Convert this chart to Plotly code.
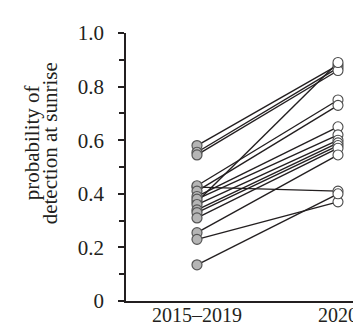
import plotly.graph_objects as go

categories = ["2015–2019", "2020"]
before = [0.58, 0.555, 0.545, 0.37, 0.425, 0.43, 0.41, 0.39, 0.38, 0.36, 0.34, 0.33, 0.31, 0.255, 0.23, 0.135]
after = [0.88, 0.87, 0.86, 0.89, 0.41, 0.75, 0.73, 0.65, 0.62, 0.60, 0.59, 0.58, 0.57, 0.545, 0.37, 0.40]
y_ticks = [0, 0.2, 0.4, 0.6, 0.8, 1.0]
y_ticktext = ["0", "0.2", "0.4", "0.6", "0.8", "1.0"]
y_minor = [0.1, 0.3, 0.5, 0.7, 0.9]
title_lines = ["probability of", "detection at sunrise"]

FONT = "Liberation Serif"
INK = "#231f20"
fig = go.Figure()
for b, a in zip(before, after):
    fig.add_trace(go.Scatter(x=[0, 1], y=[b, a], mode="lines",
                             line=dict(color=INK, width=1.4),
                             showlegend=False, hoverinfo="skip"))
fig.add_trace(go.Scatter(x=[0] * len(before), y=before, mode="markers",
                         marker=dict(size=10, color="#b5b5b5",
                                     line=dict(color="#555555", width=1.2)),
                         showlegend=False))
fig.add_trace(go.Scatter(x=[1] * len(after), y=after, mode="markers",
                         marker=dict(size=10, color="white",
                                     line=dict(color="#4a4a4a", width=1.1)),
                         showlegend=False))

fig.update_layout(
    width=361, height=325,
    margin=dict(l=118, r=0, t=25, b=32, pad=0),
    paper_bgcolor="white", plot_bgcolor="white",
    font=dict(family=FONT, size=20, color=INK),
    xaxis=dict(range=[-0.5035, 1.2199], tickvals=[0, 1], ticktext=categories,
               showline=True, linecolor=INK, linewidth=2,
               ticks="", ticklen=0, showgrid=False, zeroline=False,
               ticklabelstandoff=-5,
               tickfont=dict(family=FONT, size=20, color=INK)),
    yaxis=dict(range=[0, 1.0], tickvals=y_ticks, ticktext=y_ticktext,
               showline=True, linecolor=INK, linewidth=1.6,
               ticks="outside", ticklen=6, tickwidth=1.5, tickcolor=INK,
               minor=dict(tickvals=y_minor, ticks="outside",
                          ticklen=5, tickwidth=1.5, tickcolor=INK),
               showgrid=False, zeroline=False, ticklabelstandoff=10,
               tickfont=dict(family=FONT, size=21, color=INK)),
    annotations=[
        dict(text=title_lines[0], xref="paper", yref="paper", x=-0.389, y=0.59,
             xanchor="center", yanchor="middle", textangle=-90, showarrow=False,
             font=dict(family=FONT, size=21, color=INK)),
        dict(text=title_lines[1], xref="paper", yref="paper", x=-0.315, y=0.59,
             xanchor="center", yanchor="middle", textangle=-90, showarrow=False,
             font=dict(family=FONT, size=21, color=INK)),
    ],
)
fig.write_html("out.html")
